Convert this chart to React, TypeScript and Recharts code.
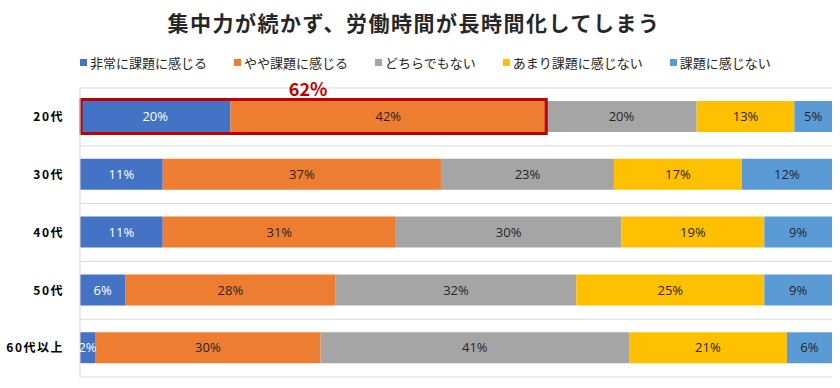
import { BarChart, Bar, XAxis, YAxis, CartesianGrid, LabelList, Rectangle } from 'recharts';

// 年代別：集中力が続かず、労働時間が長時間化してしまう (%)
const ages = ['20代', '30代', '40代', '50代', '60代以上'];
const seriesNames = ['非常に課題に感じる', 'やや課題に感じる', 'どちらでもない', 'あまり課題に感じない', '課題に感じない'];
const strong = [20, 11, 11, 6, 2];
const somewhat = [42, 37, 31, 28, 30];
const neutral = [20, 23, 30, 32, 41];
const notMuch = [13, 17, 19, 25, 21];
const none = [5, 12, 9, 9, 6];
const highlightAge = '20代';

const keys = ['strong', 'somewhat', 'neutral', 'notMuch', 'none'];
const colors = ['#4472C4', '#ED7D31', '#A5A5A5', '#FFC000', '#5B9BD5'];
const labelColors = ['#ffffff', '#262626', '#262626', '#262626', '#262626'];

const data = ages.map((age, i) => ({
  age,
  strong: strong[i],
  somewhat: somewhat[i],
  neutral: neutral[i],
  notMuch: notMuch[i],
  none: none[i],
}));

const jp = "'Noto Sans CJK JP', sans-serif";
const num = "'Open Sans', 'Noto Sans CJK JP', sans-serif";

// gray segment shape: also draws the red box around the first two segments of the highlighted row
const NeutralShape = (props: any) => {
  const { x, y, width, height, payload, fill } = props;
  const bar = <Rectangle x={x} y={y} width={width} height={height} fill={fill} />;
  if (payload.age !== highlightAge) return bar;
  const ppu = width / payload.neutral;
  const total = payload.strong + payload.somewhat;
  const left = x - total * ppu;
  return (
    <g>
      {bar}
      <rect
        x={left + 1}
        y={y - 1.5}
        width={x - left - 1}
        height={height + 3}
        fill="none"
        stroke="#C00000"
        strokeWidth={3}
      />
      <text
        x={(left + x) / 2 - 5}
        y={y - 5}
        textAnchor="middle"
        fill="#C00000"
        fontSize={18}
        fontWeight="bold"
        fontFamily={jp}
      >
        {total}%
      </text>
    </g>
  );
};

export default function App() {
  return (
    <div style={{ position: 'absolute', left: 0, top: 0, width: 840, height: 388, background: '#fff' }}>
      <div
        style={{
          position: 'absolute',
          top: 7,
          left: 0,
          width: 828,
          textAlign: 'center',
          fontFamily: jp,
          fontWeight: 'bold',
          fontSize: 21,
          letterSpacing: 1.5,
          color: '#262626',
        }}
      >
        集中力が続かず、労働時間が長時間化してしまう
      </div>
      <div
        style={{
          position: 'absolute',
          top: 53,
          left: 80,
          display: 'flex',
          gap: 27,
          fontFamily: jp,
          fontSize: 13,
          color: '#262626',
        }}
      >
        {seriesNames.map((name, i) => (
          <div key={name} style={{ display: 'flex', alignItems: 'center', gap: 3 }}>
            <span style={{ display: 'inline-block', width: 7, height: 7, background: colors[i] }} />
            <span>{name}</span>
          </div>
        ))}
      </div>
      <BarChart
        width={840}
        height={388}
        data={data}
        layout="vertical"
        barSize={31}
        margin={{ top: 88, right: 8, bottom: 11, left: 0 }}
      >
        <CartesianGrid
          vertical={false}
          stroke="#d9d9d9"
          horizontalCoordinatesGenerator={({ offset }: any) =>
            ages.concat(['']).map((_, i) => offset.top + (i * offset.height) / ages.length)
          }
        />
        <XAxis type="number" domain={[0, 100]} hide />
        <YAxis
          type="category"
          dataKey="age"
          width={80}
          tickLine={false}
          tickSize={0}
          tickMargin={16}
          axisLine={{ stroke: '#d9d9d9' }}
          tick={{ fill: '#000', fontSize: 12, fontWeight: 'bold', fontFamily: jp, letterSpacing: 1.5 }}
        />
        {keys.map((k, i) => (
          <Bar
            key={k}
            dataKey={k}
            name={seriesNames[i]}
            stackId="a"
            fill={colors[i]}
            isAnimationActive={false}
            shape={k === 'neutral' ? NeutralShape : undefined}
          >
            <LabelList
              dataKey={k}
              position="center"
              formatter={(v: any) => `${v}%`}
              fill={labelColors[i]}
              fontSize={13}
              fontFamily={num}
            />
          </Bar>
        ))}
      </BarChart>
    </div>
  );
}
